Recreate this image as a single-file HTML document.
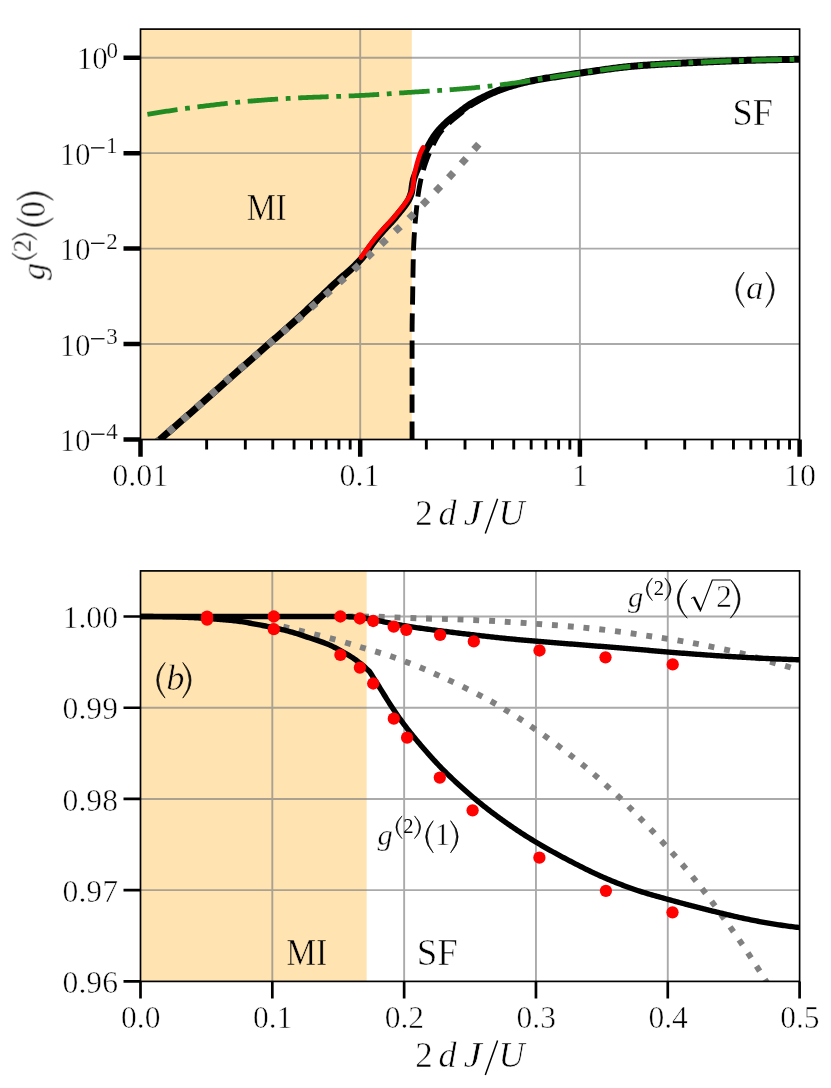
<!DOCTYPE html>
<html><head><meta charset="utf-8"><title>g2 correlations</title>
<style>html,body{margin:0;padding:0;background:#fff}svg{display:block}text{font-family:"Liberation Serif",serif;fill:#000}</style></head>
<body>
<svg width="831" height="1088" viewBox="0 0 831 1088">
<rect width="831" height="1088" fill="#fff"/>
<defs><clipPath id="ca"><rect x="140.5" y="29.1" width="659.1" height="410.4"/></clipPath><clipPath id="cb"><rect x="140.5" y="570.9" width="659.1" height="410.5"/></clipPath></defs>
<g opacity="0.999">
<!-- panel a -->
<rect x="140.5" y="29.1" width="271.3" height="410.4" fill="#ffe4b2"/>
<path d="M360.2 29.1 V439.5 M579.9 29.1 V439.5 M140.5 57.7 H799.6 M140.5 153.15 H799.6 M140.5 248.6 H799.6 M140.5 344.05 H799.6" stroke="#808080" stroke-opacity="0.67" stroke-width="1.9" fill="none"/>
<g clip-path="url(#ca)" fill="none" stroke-linejoin="round">
<path d="M148.5 449.5 L149.63 448.51 L150.77 447.53 L151.9 446.54 L153.04 445.56 L154.17 444.57 L155.31 443.58 L156.44 442.6 L157.57 441.61 L158.71 440.62 L159.84 439.64 L160.98 438.65 L162.11 437.67 L163.24 436.68 L164.38 435.69 L165.51 434.71 L166.65 433.72 L167.78 432.74 L168.92 431.75 L170.05 430.77 L171.19 429.78 L172.32 428.8 L173.46 427.81 L174.59 426.83 L175.73 425.84 L176.86 424.86 L178 423.87 L179.13 422.89 L180.27 421.9 L181.4 420.91 L182.54 419.93 L183.67 418.94 L184.81 417.96 L185.94 416.97 L187.07 415.98 L188.21 415 L189.34 414.01 L190.47 413.02 L191.61 412.03 L192.74 411.04 L193.87 410.05 L195 409.07 L196.13 408.08 L197.26 407.09 L198.39 406.09 L199.52 405.1 L200.65 404.11 L201.78 403.12 L202.91 402.13 L204.04 401.13 L205.16 400.14 L206.29 399.14 L207.42 398.15 L208.54 397.15 L209.67 396.16 L210.79 395.16 L211.92 394.17 L213.04 393.17 L214.17 392.17 L215.29 391.17 L216.42 390.18 L217.54 389.18 L218.67 388.18 L219.79 387.18 L220.91 386.18 L222.04 385.19 L223.16 384.19 L224.28 383.19 L225.41 382.19 L226.53 381.19 L227.66 380.2 L228.78 379.2 L229.9 378.2 L231.03 377.2 L232.15 376.21 L233.28 375.21 L234.4 374.21 L235.53 373.22 L236.65 372.22 L237.78 371.22 L238.91 370.23 L240.03 369.23 L241.16 368.24 L242.29 367.25 L243.42 366.25 L244.54 365.26 L245.67 364.27 L246.8 363.28 L247.93 362.29 L249.06 361.29 L250.19 360.3 L251.32 359.31 L252.45 358.32 L253.58 357.33 L254.72 356.34 L255.85 355.35 L256.98 354.36 L258.11 353.37 L259.24 352.38 L260.37 351.39 L261.5 350.4 L262.63 349.41 L263.76 348.42 L264.89 347.43 L266.02 346.44 L267.15 345.45 L268.28 344.45 L269.41 343.46 L270.54 342.47 L271.66 341.48 L272.79 340.48 L273.92 339.49 L275.05 338.5 L276.18 337.51 L277.31 336.52 L278.45 335.53 L279.58 334.54 L280.71 333.55 L281.84 332.56 L282.97 331.57 L284.1 330.58 L285.23 329.59 L286.36 328.6 L287.49 327.6 L288.62 326.61 L289.74 325.61 L290.87 324.62 L291.99 323.62 L293.11 322.62 L294.23 321.62 L295.35 320.61 L296.47 319.61 L297.58 318.6 L298.7 317.59 L299.81 316.58 L300.91 315.56 L302.02 314.55 L303.12 313.53 L304.22 312.5 L305.32 311.48 L306.42 310.45 L307.52 309.42 L308.61 308.39 L309.7 307.36 L310.79 306.33 L311.88 305.29 L312.97 304.26 L314.06 303.22 L315.15 302.18 L316.24 301.15 L317.32 300.11 L318.41 299.07 L319.49 298.03 L320.58 296.99 L321.66 295.95 L322.75 294.91 L323.84 293.87 L324.92 292.83 L326.01 291.79 L327.1 290.75 L328.19 289.72 L329.28 288.68 L330.37 287.65 L331.46 286.61 L332.55 285.58 L333.65 284.55 L334.75 283.53 L335.86 282.51 L336.97 281.5 L338.1 280.49 L339.23 279.49 L340.37 278.49 L341.5 277.49 L342.65 276.5 L343.79 275.51 L344.93 274.52 L346.07 273.52 L347.21 272.53 L348.34 271.53 L349.47 270.52 L350.59 269.52 L351.71 268.5 L352.81 267.49 L353.91 266.46 L355 265.42 L356.07 264.38 L357.13 263.32 L358.17 262.26 L359.2 261.18 L360.21 260.09 L361.2 258.98 L362.17 257.86 L363.12 256.71 L364.04 255.54 L364.93 254.34 L365.81 253.12 L366.68 251.88 L367.54 250.64 L368.39 249.4 L369.25 248.15 L370.11 246.91 L370.98 245.68 L371.87 244.46 L372.77 243.25 L373.69 242.07 L374.63 240.9 L375.57 239.73 L376.52 238.56 L377.48 237.4 L378.45 236.25 L379.42 235.1 L380.39 233.96 L381.38 232.82 L382.36 231.68 L383.36 230.55 L384.35 229.43 L385.35 228.31 L386.37 227.2 L387.4 226.11 L388.44 225.03 L389.49 223.94 L390.52 222.85 L391.55 221.75 L392.55 220.63 L393.53 219.5 L394.51 218.36 L395.47 217.2 L396.43 216.04 L397.38 214.88 L398.33 213.72 L399.29 212.55 L400.25 211.39 L401.21 210.24 L402.17 209.07 L403.11 207.9 L404.03 206.71 L404.9 205.5 L405.76 204.26 L406.63 203.01 L407.47 201.75 L408.26 200.46 L408.98 199.14 L409.6 197.8 L410.16 196.42 L410.67 194.99 L411.12 193.54 L411.49 192.08 L411.74 190.61 L411.93 189.12 L412.09 187.62 L412.28 186.13 L412.51 184.64 L412.76 183.15 L413.04 181.67 L413.35 180.21 L413.73 178.76 L414.19 177.33 L414.69 175.91 L415.22 174.5 L415.74 173.09 L416.29 171.69 L416.86 170.3 L417.45 168.92 L418.04 167.53 L418.64 166.15 L419.23 164.77 L419.83 163.39 L420.43 162.02 L421.04 160.64 L421.65 159.27 L422.27 157.9 L422.88 156.53 L423.5 155.16 L424.13 153.79 L424.78 152.44 L425.46 151.1 L426.17 149.77 L426.9 148.45 L427.63 147.14 L428.36 145.83 L429.09 144.51 L429.82 143.18 L430.56 141.86 L431.31 140.55 L432.08 139.26 L432.87 137.98 L433.68 136.73 L434.53 135.51 L435.42 134.32 L436.33 133.13 L437.27 131.96 L438.24 130.8 L439.24 129.66 L440.25 128.53 L441.28 127.42 L442.33 126.32 L443.39 125.25 L444.45 124.19 L445.53 123.16 L446.62 122.15 L447.74 121.16 L448.88 120.19 L450.04 119.24 L451.22 118.3 L452.41 117.37 L453.61 116.46 L454.81 115.55 L456.03 114.65 L457.24 113.75 L458.45 112.84 L459.65 111.94 L460.84 111.03 L462.04 110.11 L463.24 109.2 L464.44 108.29 L465.65 107.39 L466.87 106.51 L468.1 105.65 L469.34 104.82 L470.61 104.02 L471.89 103.25 L473.2 102.51 L474.51 101.78 L475.84 101.07 L477.18 100.36 L478.51 99.67 L479.85 98.98 L481.18 98.29 L482.52 97.61 L483.87 96.93 L485.21 96.27 L486.57 95.61 L487.93 94.97 L489.29 94.34 L490.66 93.73 L492.04 93.12 L493.42 92.53 L494.81 91.95 L496.2 91.38 L497.6 90.82 L499 90.28 L500.4 89.75 L501.81 89.23 L503.22 88.72 L504.64 88.22 L506.07 87.73 L507.49 87.25 L508.92 86.79 L510.36 86.34 L511.79 85.9 L513.23 85.48 L514.68 85.06 L516.13 84.65 L517.57 84.25 L519.03 83.86 L520.48 83.47 L521.93 83.09 L523.39 82.72 L524.85 82.36 L526.31 82.01 L527.77 81.67 L529.24 81.35 L530.71 81.04 L532.19 80.75 L533.66 80.46 L535.14 80.18 L536.62 79.9 L538.09 79.63 L539.57 79.36 L541.05 79.09 L542.53 78.82 L544.01 78.57 L545.49 78.32 L546.98 78.07 L548.46 77.83 L549.95 77.6 L551.43 77.37 L552.92 77.15 L554.4 76.93 L555.89 76.71 L557.38 76.49 L558.87 76.27 L560.35 76.05 L561.84 75.82 L563.32 75.6 L564.81 75.37 L566.3 75.14 L567.78 74.91 L569.27 74.69 L570.75 74.46 L572.24 74.23 L573.73 74.01 L575.21 73.79 L576.7 73.57 L578.19 73.36 L579.67 73.15 L581.16 72.94 L582.65 72.73 L584.14 72.51 L585.63 72.3 L587.12 72.09 L588.6 71.87 L590.09 71.66 L591.58 71.44 L593.07 71.22 L594.56 71.01 L596.05 70.79 L597.54 70.58 L599.03 70.36 L600.52 70.15 L602.01 69.94 L603.49 69.73 L604.98 69.52 L606.47 69.31 L607.96 69.11 L609.46 68.91 L610.95 68.71 L612.44 68.51 L613.93 68.31 L615.42 68.12 L616.91 67.94 L618.4 67.75 L619.89 67.57 L621.39 67.4 L622.88 67.23 L624.37 67.06 L625.87 66.9 L627.36 66.74 L628.85 66.59 L630.35 66.45 L631.84 66.31 L633.34 66.17 L634.83 66.05 L636.33 65.92 L637.82 65.81 L639.32 65.69 L640.82 65.58 L642.31 65.46 L643.81 65.35 L645.31 65.25 L646.81 65.14 L648.31 65.04 L649.81 64.94 L651.31 64.84 L652.81 64.74 L654.31 64.65 L655.81 64.55 L657.31 64.46 L658.81 64.37 L660.31 64.28 L661.81 64.2 L663.31 64.11 L664.81 64.03 L666.31 63.94 L667.82 63.86 L669.32 63.78 L670.82 63.7 L672.32 63.62 L673.82 63.54 L675.32 63.47 L676.83 63.39 L678.33 63.31 L679.83 63.24 L681.33 63.16 L682.83 63.09 L684.34 63.01 L685.84 62.94 L687.34 62.86 L688.84 62.79 L690.34 62.72 L691.84 62.64 L693.34 62.57 L694.84 62.5 L696.35 62.42 L697.85 62.35 L699.35 62.28 L700.85 62.21 L702.35 62.13 L703.85 62.06 L705.35 61.99 L706.85 61.92 L708.36 61.85 L709.86 61.78 L711.36 61.71 L712.86 61.64 L714.36 61.58 L715.86 61.51 L717.37 61.44 L718.87 61.38 L720.37 61.31 L721.87 61.25 L723.37 61.19 L724.88 61.13 L726.38 61.07 L727.88 61.01 L729.38 60.95 L730.88 60.89 L732.38 60.84 L733.89 60.78 L735.39 60.73 L736.89 60.68 L738.39 60.63 L739.9 60.58 L741.4 60.53 L742.9 60.49 L744.4 60.44 L745.9 60.4 L747.41 60.36 L748.91 60.32 L750.41 60.28 L751.91 60.24 L753.41 60.2 L754.92 60.16 L756.42 60.12 L757.92 60.09 L759.42 60.05 L760.93 60.01 L762.43 59.97 L763.93 59.94 L765.43 59.9 L766.94 59.87 L768.44 59.83 L769.94 59.8 L771.44 59.77 L772.95 59.73 L774.45 59.7 L775.95 59.67 L777.46 59.64 L778.96 59.61 L780.46 59.58 L781.96 59.56 L783.47 59.53 L784.97 59.5 L786.47 59.48 L787.98 59.45 L789.48 59.43 L790.98 59.41 L792.48 59.39 L793.99 59.37 L795.49 59.35 L796.99 59.33 L798.5 59.32 L800 59.3" stroke="#000" stroke-width="7"/>
<path d="M412.06 439.9 L412.06 438.9 L412.06 437.9 L412.06 436.89 L412.06 435.89 L412.06 434.89 L412.06 433.89 L412.06 432.89 L412.06 431.88 L412.06 430.88 L412.06 429.88 L412.06 428.88 L412.06 427.88 L412.06 426.87 L412.06 425.87 L412.06 424.87 L412.06 423.87 L412.06 422.87 L412.06 421.86 L412.06 420.86 L412.06 419.86 L412.06 418.86 L412.06 417.86 L412.06 416.85 L412.06 415.85 L412.06 414.85 L412.06 413.85 L412.06 412.85 L412.06 411.84 L412.06 410.84 L412.06 409.84 L412.06 408.84 L412.06 407.84 L412.06 406.83 L412.06 405.83 L412.06 404.83 L412.06 403.83 L412.06 402.83 L412.06 401.82 L412.06 400.82 L412.06 399.82 L412.06 398.82 L412.06 397.82 L412.06 396.81 L412.06 395.81 L412.06 394.81 L412.06 393.81 L412.06 392.81 L412.06 391.8 L412.06 390.8 L412.06 389.8 L412.06 388.8 L412.06 387.8 L412.06 386.79 L412.06 385.79 L412.06 384.79 L412.06 383.79 L412.06 382.79 L412.06 381.78 L412.06 380.78 L412.06 379.78 L412.06 378.78 L412.06 377.78 L412.06 376.77 L412.06 375.77 L412.06 374.77 L412.06 373.77 L412.06 372.77 L412.06 371.76 L412.06 370.76 L412.06 369.76 L412.06 368.76 L412.06 367.76 L412.06 366.75 L412.06 365.75 L412.06 364.75 L412.06 363.75 L412.06 362.75 L412.07 361.74 L412.07 360.74 L412.07 359.74 L412.07 358.74 L412.07 357.74 L412.07 356.73 L412.07 355.73 L412.07 354.73 L412.07 353.73 L412.07 352.73 L412.07 351.72 L412.07 350.72 L412.07 349.72 L412.08 348.72 L412.08 347.72 L412.08 346.71 L412.08 345.71 L412.08 344.71 L412.08 343.71 L412.08 342.71 L412.08 341.7 L412.08 340.7 L412.09 339.7 L412.09 338.7 L412.09 337.7 L412.09 336.69 L412.09 335.69 L412.09 334.69 L412.09 333.69 L412.1 332.69 L412.1 331.68 L412.1 330.68 L412.1 329.68 L412.1 328.68 L412.11 327.68 L412.12 326.67 L412.12 325.67 L412.13 324.67 L412.15 323.67 L412.16 322.67 L412.17 321.66 L412.19 320.66 L412.2 319.66 L412.22 318.66 L412.24 317.66 L412.26 316.66 L412.28 315.65 L412.3 314.65 L412.32 313.65 L412.34 312.65 L412.36 311.65 L412.38 310.64 L412.41 309.64 L412.43 308.64 L412.45 307.64 L412.47 306.64 L412.49 305.64 L412.51 304.63 L412.53 303.63 L412.55 302.63 L412.57 301.63 L412.59 300.63 L412.61 299.62 L412.62 298.62 L412.64 297.62 L412.66 296.62 L412.67 295.62 L412.69 294.61 L412.7 293.61 L412.72 292.61 L412.73 291.61 L412.75 290.61 L412.76 289.6 L412.78 288.6 L412.79 287.6 L412.81 286.6 L412.82 285.6 L412.83 284.59 L412.85 283.59 L412.86 282.59 L412.88 281.59 L412.89 280.59 L412.91 279.58 L412.92 278.58 L412.94 277.58 L412.95 276.58 L412.97 275.58 L412.98 274.57 L413 273.57 L413.01 272.57 L413.03 271.57 L413.05 270.57 L413.06 269.56 L413.08 268.56 L413.1 267.56 L413.12 266.56 L413.13 265.56 L413.15 264.55 L413.17 263.55 L413.19 262.55 L413.21 261.55 L413.24 260.55 L413.26 259.55 L413.28 258.54 L413.3 257.54 L413.33 256.54 L413.35 255.54 L413.38 254.54 L413.4 253.54 L413.43 252.54 L413.46 251.53 L413.48 250.53 L413.51 249.53 L413.55 248.53 L413.58 247.53 L413.62 246.53 L413.67 245.53 L413.71 244.53 L413.76 243.53 L413.82 242.53 L413.87 241.53 L413.93 240.52 L413.98 239.52 L414.05 238.52 L414.11 237.52 L414.17 236.52 L414.23 235.52 L414.3 234.52 L414.37 233.52 L414.43 232.52 L414.5 231.52 L414.57 230.52 L414.63 229.52 L414.7 228.52 L414.78 227.52 L414.85 226.53 L414.93 225.53 L415.01 224.53 L415.09 223.53 L415.18 222.53 L415.27 221.53 L415.35 220.53 L415.44 219.54 L415.53 218.54 L415.63 217.54 L415.72 216.54 L415.82 215.55 L415.92 214.55 L416.02 213.55 L416.12 212.56 L416.22 211.56 L416.33 210.56 L416.43 209.57 L416.54 208.57 L416.65 207.57 L416.75 206.58 L416.86 205.58 L416.97 204.58 L417.08 203.59 L417.19 202.59 L417.3 201.6 L417.42 200.6 L417.54 199.61 L417.66 198.61 L417.79 197.62 L417.92 196.62 L418.05 195.63 L418.19 194.64 L418.33 193.65 L418.48 192.66 L418.63 191.67 L418.79 190.68 L418.95 189.69 L419.12 188.7 L419.29 187.71 L419.47 186.72 L419.65 185.74 L419.83 184.76 L420.03 183.77 L420.23 182.79 L420.43 181.81 L420.64 180.83 L420.85 179.85 L421.07 178.87 L421.3 177.89 L421.53 176.92 L421.77 175.94 L422.01 174.97 L422.25 174 L422.51 173.03 L422.77 172.07 L423.03 171.1 L423.31 170.13 L423.59 169.17 L423.87 168.21 L424.16 167.25 L424.46 166.29 L424.76 165.34 L425.07 164.38 L425.39 163.44 L425.71 162.49 L426.05 161.55 L426.39 160.6 L426.74 159.66 L427.1 158.73 L427.47 157.79 L427.84 156.86 L428.21 155.93 L428.59 155 L428.97 154.08 L429.35 153.15 L429.74 152.23 L430.14 151.31 L430.54 150.39 L430.95 149.47 L431.37 148.56 L431.79 147.65 L432.21 146.74 L432.64 145.84 L433.08 144.94 L433.53 144.04 L433.97 143.14 L434.42 142.24 L434.88 141.34 L435.34 140.44 L435.8 139.54 L436.28 138.66 L436.77 137.78 L437.27 136.91 L437.79 136.06 L438.32 135.22 L438.87 134.4 L439.44 133.59 L440.03 132.8 L440.65 132.01 L441.28 131.23 L441.93 130.46 L442.6 129.7 L443.27 128.95 L443.96 128.21 L444.66 127.48 L445.36 126.75 L446.06 126.03 L446.77 125.33 L447.48 124.63 L448.19 123.93 L448.92 123.25 L449.65 122.58 L450.4 121.91 L451.15 121.25 L451.91 120.59 L452.67 119.95 L453.45 119.3 L454.22 118.66 L455 118.03 L455.78 117.4 L456.57 116.77 L457.36 116.14 L458.14 115.51 L458.93 114.89 L459.72 114.27 L460.5 113.64 L461.28 113.01 L462.06 112.38 L462.84 111.75 L463.63 111.12 L464.41 110.49 L465.2 109.87 L465.99 109.25 L466.78 108.63 L467.58 108.03 L468.38 107.43 L469.19 106.84 L470.01 106.27 L470.84 105.71 L471.67 105.16 L472.51 104.63 L473.36 104.11 L474.22 103.59 L475.09 103.09 L475.96 102.59 L476.84 102.1 L477.72 101.61 L478.59 101.12 L479.47 100.64 L480.35 100.16 L481.23 99.67 L482.11 99.19 L482.99 98.71 L483.87 98.23 L484.75 97.76 L485.64 97.29 L486.53 96.82 L487.41 96.36 L488.31 95.9 L489.2 95.45 L490.1 95 L490.99 94.56 L491.9 94.12 L492.8 93.69 L493.71 93.26 L494.61 92.84 L495.53 92.42 L496.44 92 L497.35 91.59 L498.27 91.18 L499.18 90.78 L500.1 90.38 L501.02 89.98 L501.94 89.58 L502.86 89.18 L503.79 88.79 L504.71 88.4 L505.64 88.02 L506.57 87.65 L507.51 87.3 L508.45 86.96 L509.39 86.63 L510.34 86.32 L511.3 86.02 L512.26 85.73 L513.22 85.45 L514.18 85.18 L515.15 84.91 L516.12 84.64 L517.09 84.38 L518.06 84.12 L519.02 83.86 L519.99 83.6 L520.96 83.34 L521.93 83.09 L522.9 82.84 L523.87 82.6 L524.85 82.36 L525.82 82.12 L526.8 81.89 L527.77 81.67 L528.75 81.46 L529.73 81.25 L530.71 81.05 L531.69 80.85 L532.68 80.65 L533.66 80.46 L534.65 80.27 L535.63 80.09 L536.62 79.9 L537.6 79.72 L538.59 79.54 L539.57 79.36 L540.56 79.18 L541.54 79 L542.53 78.83 L543.52 78.65 L544.5 78.48 L545.49 78.32 L546.48 78.15 L547.47 77.99 L548.46 77.83 L549.45 77.67 L550.44 77.52 L551.43 77.37 L552.42 77.22 L553.41 77.07 L554.4 76.93 L555.39 76.78 L556.39 76.64 L557.38 76.49 L558.37 76.34 L559.36 76.2 L560.35 76.05 L561.34 75.9 L562.33 75.75 L563.32 75.6 L564.31 75.44 L565.3 75.29 L566.29 75.14 L567.28 74.99 L568.27 74.84 L569.27 74.69 L570.26 74.53 L571.25 74.38 L572.24 74.23 L573.23 74.09 L574.22 73.94 L575.21 73.79 L576.2 73.64 L577.19 73.5 L578.18 73.36 L579.18 73.22 L580.17 73.08 L581.16 72.94 L582.15 72.8 L583.15 72.66 L584.14 72.51 L585.13 72.37 L586.12 72.23 L587.11 72.09 L588.11 71.94 L589.1 71.8 L590.09 71.66 L591.08 71.51 L592.08 71.37 L593.07 71.22 L594.06 71.08 L595.05 70.94 L596.05 70.79 L597.04 70.65 L598.03 70.51 L599.02 70.36 L600.02 70.22 L601.01 70.08 L602 69.94 L603 69.8 L603.99 69.66 L604.98 69.52 L605.98 69.38 L606.97 69.24 L607.96 69.11 L608.96 68.97 L609.95 68.84 L610.94 68.71 L611.94 68.57 L612.93 68.44 L613.93 68.31 L614.92 68.19 L615.91 68.06 L616.91 67.94 L617.9 67.81 L618.9 67.69 L619.89 67.57 L620.89 67.46 L621.88 67.34 L622.88 67.23 L623.87 67.12 L624.87 67.01 L625.86 66.9 L626.86 66.8 L627.86 66.69 L628.85 66.59 L629.85 66.5 L630.84 66.4 L631.84 66.31 L632.84 66.22 L633.83 66.13 L634.83 66.05 L635.83 65.97 L636.82 65.89 L637.82 65.81 L638.82 65.73 L639.82 65.65 L640.82 65.58 L641.81 65.5 L642.81 65.43 L643.81 65.35 L644.81 65.28 L645.81 65.21 L646.81 65.14 L647.81 65.07 L648.81 65.01 L649.81 64.94 L650.81 64.87 L651.8 64.81 L652.8 64.74 L653.8 64.68 L654.8 64.62 L655.81 64.55 L656.81 64.49 L657.81 64.43 L658.81 64.37 L659.81 64.31 L660.81 64.26 L661.81 64.2 L662.81 64.14 L663.81 64.08 L664.81 64.03 L665.81 63.97 L666.81 63.92 L667.81 63.86 L668.82 63.81 L669.82 63.75 L670.82 63.7 L671.82 63.65 L672.82 63.59 L673.82 63.54 L674.82 63.49 L675.82 63.44 L676.83 63.39 L677.83 63.34 L678.83 63.29 L679.83 63.24 L680.83 63.19 L681.83 63.14 L682.83 63.09 L683.83 63.04 L684.84 62.99 L685.84 62.94 L686.84 62.89 L687.84 62.84 L688.84 62.79 L689.84 62.74 L690.84 62.69 L691.84 62.64 L692.84 62.6 L693.84 62.55 L694.84 62.5 L695.84 62.45 L696.85 62.4 L697.85 62.35 L698.85 62.3 L699.85 62.25 L700.85 62.21 L701.85 62.16 L702.85 62.11 L703.85 62.06 L704.85 62.01 L705.85 61.97 L706.85 61.92 L707.86 61.87 L708.86 61.83 L709.86 61.78 L710.86 61.73 L711.86 61.69 L712.86 61.64 L713.86 61.6 L714.86 61.55 L715.86 61.51 L716.86 61.46 L717.87 61.42 L718.87 61.38 L719.87 61.33 L720.87 61.29 L721.87 61.25 L722.87 61.21 L723.87 61.17 L724.87 61.13 L725.88 61.09 L726.88 61.05 L727.88 61.01 L728.88 60.97 L729.88 60.93 L730.88 60.89 L731.88 60.86 L732.88 60.82 L733.89 60.78 L734.89 60.75 L735.89 60.71 L736.89 60.68 L737.89 60.65 L738.89 60.61 L739.89 60.58 L740.9 60.55 L741.9 60.52 L742.9 60.49 L743.9 60.46 L744.9 60.43 L745.9 60.4 L746.9 60.38 L747.91 60.35 L748.91 60.32 L749.91 60.29 L750.91 60.27 L751.91 60.24 L752.91 60.21 L753.92 60.19 L754.92 60.16 L755.92 60.14 L756.92 60.11 L757.92 60.09 L758.92 60.06 L759.92 60.04 L760.93 60.01 L761.93 59.99 L762.93 59.96 L763.93 59.94 L764.93 59.91 L765.93 59.89 L766.94 59.87 L767.94 59.84 L768.94 59.82 L769.94 59.8 L770.94 59.78 L771.95 59.76 L772.95 59.73 L773.95 59.71 L774.95 59.69 L775.95 59.67 L776.95 59.65 L777.96 59.63 L778.96 59.61 L779.96 59.59 L780.96 59.57 L781.96 59.56 L782.97 59.54 L783.97 59.52 L784.97 59.5 L785.97 59.49 L786.97 59.47 L787.98 59.45 L788.98 59.44 L789.98 59.42 L790.98 59.41 L791.98 59.4 L792.99 59.38 L793.99 59.37 L794.99 59.36 L795.99 59.34 L796.99 59.33 L798 59.32 L799 59.31 L800 59.3" stroke="#000" stroke-width="4.9" stroke-dasharray="18.3 8.75"/>
<g fill="#808080"><rect x="153.2" y="438.4" width="7.2" height="7.2" transform="rotate(-40.7 156.8 442)"/><rect x="167.5" y="426.1" width="7.2" height="7.2" transform="rotate(-40.77 171.1 429.7)"/><rect x="181.5" y="414" width="7.2" height="7.2" transform="rotate(-41.1 185.1 417.6)"/><rect x="195.7" y="401.5" width="7.2" height="7.2" transform="rotate(-41.48 199.3 405.1)"/><rect x="210" y="388.8" width="7.2" height="7.2" transform="rotate(-42.04 213.6 392.4)"/><rect x="224.2" y="375.8" width="7.2" height="7.2" transform="rotate(-41.6 227.8 379.4)"/><rect x="238.5" y="363.5" width="7.2" height="7.2" transform="rotate(-40.47 242.1 367.1)"/><rect x="252.8" y="351.4" width="7.2" height="7.2" transform="rotate(-40.72 256.4 355)"/><rect x="267.2" y="338.8" width="7.2" height="7.2" transform="rotate(-40.94 270.8 342.4)"/><rect x="281.5" y="326.5" width="7.2" height="7.2" transform="rotate(-40.55 285.1 330.1)"/><rect x="295.6" y="314.5" width="7.2" height="7.2" transform="rotate(-40.98 299.2 318.1)"/><rect x="309.7" y="302" width="7.2" height="7.2" transform="rotate(-41.38 313.3 305.6)"/><rect x="324.2" y="289.3" width="7.2" height="7.2" transform="rotate(-41.51 327.8 292.9)"/><rect x="338.4" y="276.6" width="7.2" height="7.2" transform="rotate(-41.82 342 280.2)"/><rect x="352.7" y="263.8" width="7.2" height="7.2" transform="rotate(-42.42 356.3 267.4)"/><rect x="366.2" y="251.2" width="7.2" height="7.2" transform="rotate(-42.84 369.8 254.8)"/><rect x="380.2" y="238.3" width="7.2" height="7.2" transform="rotate(-42.76 383.8 241.9)"/><rect x="394.1" y="225.4" width="7.2" height="7.2" transform="rotate(-43.13 397.7 229)"/><rect x="407.85" y="212.4" width="7.2" height="7.2" transform="rotate(-44.42 411.45 216)"/><rect x="421.35" y="198.7" width="7.2" height="7.2" transform="rotate(-45.48 424.95 202.3)"/><rect x="434.5" y="185.3" width="7.2" height="7.2" transform="rotate(-46.13 438.1 188.9)"/><rect x="447.5" y="171.5" width="7.2" height="7.2" transform="rotate(-47.35 451.1 175.1)"/><rect x="460.2" y="157.4" width="7.2" height="7.2" transform="rotate(-48.2 463.8 161)"/><rect x="472.8" y="143.2" width="7.2" height="7.2" transform="rotate(-48.42 476.4 146.8)"/></g>
<path d="M147.4 114.3 L148.88 114.06 L150.37 113.81 L151.85 113.57 L153.34 113.33 L154.82 113.09 L156.31 112.85 L157.79 112.62 L159.28 112.38 L160.76 112.15 L162.25 111.92 L163.74 111.69 L165.22 111.46 L166.71 111.23 L168.2 111.01 L169.68 110.78 L171.17 110.56 L172.66 110.34 L174.15 110.12 L175.63 109.91 L177.12 109.69 L178.61 109.48 L180.1 109.27 L181.59 109.06 L183.08 108.85 L184.56 108.64 L186.05 108.44 L187.54 108.23 L189.03 108.03 L190.52 107.83 L192.01 107.64 L193.5 107.44 L194.99 107.25 L196.48 107.05 L197.97 106.87 L199.46 106.68 L200.96 106.49 L202.45 106.3 L203.94 106.11 L205.43 105.93 L206.92 105.74 L208.42 105.56 L209.91 105.37 L211.4 105.19 L212.89 105.01 L214.39 104.83 L215.88 104.65 L217.37 104.47 L218.87 104.29 L220.36 104.12 L221.86 103.95 L223.35 103.77 L224.84 103.61 L226.34 103.44 L227.83 103.27 L229.33 103.11 L230.82 102.95 L232.32 102.79 L233.82 102.64 L235.31 102.48 L236.81 102.33 L238.3 102.18 L239.8 102.04 L241.3 101.9 L242.79 101.76 L244.29 101.62 L245.79 101.49 L247.28 101.36 L248.78 101.23 L250.28 101.11 L251.78 100.99 L253.27 100.86 L254.77 100.74 L256.27 100.63 L257.77 100.51 L259.27 100.39 L260.77 100.28 L262.27 100.16 L263.76 100.05 L265.26 99.94 L266.76 99.83 L268.26 99.72 L269.76 99.62 L271.26 99.51 L272.77 99.41 L274.27 99.31 L275.77 99.21 L277.27 99.11 L278.77 99.01 L280.27 98.92 L281.77 98.82 L283.27 98.73 L284.77 98.64 L286.27 98.55 L287.77 98.47 L289.28 98.38 L290.78 98.3 L292.28 98.21 L293.78 98.13 L295.28 98.05 L296.78 97.98 L298.28 97.9 L299.78 97.83 L301.29 97.76 L302.79 97.69 L304.29 97.62 L305.79 97.55 L307.29 97.49 L308.79 97.43 L310.3 97.37 L311.8 97.31 L313.3 97.25 L314.8 97.19 L316.31 97.14 L317.81 97.08 L319.31 97.03 L320.81 96.98 L322.32 96.92 L323.82 96.87 L325.32 96.82 L326.83 96.77 L328.33 96.72 L329.83 96.67 L331.33 96.62 L332.84 96.57 L334.34 96.51 L335.84 96.46 L337.34 96.41 L338.85 96.36 L340.35 96.31 L341.85 96.25 L343.36 96.2 L344.86 96.14 L346.36 96.09 L347.86 96.03 L349.37 95.97 L350.87 95.91 L352.37 95.84 L353.87 95.78 L355.37 95.71 L356.88 95.65 L358.38 95.58 L359.88 95.51 L361.38 95.43 L362.88 95.36 L364.38 95.28 L365.88 95.2 L367.38 95.11 L368.88 95.03 L370.39 94.94 L371.89 94.86 L373.39 94.77 L374.89 94.67 L376.39 94.58 L377.89 94.49 L379.39 94.39 L380.89 94.3 L382.39 94.2 L383.89 94.1 L385.39 94 L386.89 93.9 L388.39 93.8 L389.89 93.7 L391.39 93.6 L392.89 93.49 L394.39 93.39 L395.89 93.29 L397.39 93.18 L398.89 93.08 L400.39 92.98 L401.89 92.88 L403.39 92.77 L404.89 92.67 L406.39 92.57 L407.89 92.47 L409.39 92.37 L410.89 92.27 L412.39 92.17 L413.89 92.07 L415.39 91.97 L416.89 91.88 L418.4 91.78 L419.9 91.68 L421.4 91.59 L422.9 91.5 L424.4 91.4 L425.9 91.31 L427.4 91.21 L428.9 91.12 L430.4 91.03 L431.9 90.93 L433.4 90.84 L434.91 90.74 L436.41 90.65 L437.91 90.55 L439.41 90.45 L440.91 90.35 L442.41 90.26 L443.91 90.16 L445.41 90.05 L446.91 89.95 L448.41 89.85 L449.91 89.74 L451.41 89.64 L452.91 89.53 L454.41 89.42 L455.91 89.3 L457.4 89.19 L458.9 89.07 L460.4 88.96 L461.9 88.83 L463.4 88.71 L464.89 88.59 L466.39 88.46 L467.89 88.33 L469.38 88.19 L470.88 88.05 L472.38 87.91 L473.87 87.77 L475.37 87.62 L476.86 87.48 L478.36 87.32 L479.86 87.17 L481.35 87.01 L482.85 86.85 L484.34 86.69 L485.84 86.53 L487.33 86.36 L488.83 86.19 L490.32 86.02 L491.81 85.84 L493.31 85.67 L494.8 85.49 L496.3 85.31 L497.79 85.13 L499.28 84.95 L500.78 84.76 L502.27 84.58 L503.76 84.39 L505.25 84.2 L506.74 84.01 L508.24 83.81 L509.73 83.62 L511.22 83.43 L512.71 83.23 L514.2 83.03 L515.69 82.83 L517.18 82.63 L518.67 82.43 L520.15 82.23 L521.64 82.02 L523.13 81.8 L524.62 81.57 L526.1 81.35 L527.59 81.11 L529.07 80.88 L530.56 80.64 L532.04 80.39 L533.52 80.15 L535.01 79.91 L536.49 79.66 L537.98 79.42 L539.46 79.18 L540.94 78.94 L542.43 78.7 L543.92 78.47 L545.4 78.24 L546.89 78.01 L548.37 77.78 L549.86 77.56 L551.35 77.33 L552.83 77.1 L554.32 76.88 L555.81 76.65 L557.29 76.42 L558.78 76.2 L560.26 75.97 L561.75 75.75 L563.24 75.53 L564.73 75.3 L566.21 75.08 L567.7 74.86 L569.19 74.64 L570.68 74.43 L572.16 74.21 L573.65 74 L575.14 73.78 L576.63 73.57 L578.12 73.36 L579.61 73.15 L581.09 72.95 L582.58 72.74 L584.07 72.53 L585.56 72.32 L587.05 72.1 L588.54 71.89 L590.03 71.68 L591.52 71.46 L593.01 71.25 L594.5 71.03 L595.99 70.81 L597.48 70.6 L598.97 70.39 L600.46 70.17 L601.95 69.96 L603.44 69.75 L604.93 69.54 L606.42 69.33 L607.91 69.13 L609.4 68.92 L610.89 68.72 L612.38 68.52 L613.87 68.33 L615.36 68.14 L616.85 67.95 L618.35 67.77 L619.84 67.59 L621.33 67.41 L622.82 67.24 L624.32 67.07 L625.81 66.91 L627.3 66.75 L628.8 66.6 L630.29 66.45 L631.79 66.31 L633.28 66.18 L634.78 66.05 L636.28 65.93 L637.77 65.81 L639.27 65.69 L640.77 65.58 L642.26 65.47 L643.76 65.36 L645.26 65.25 L646.76 65.15 L648.26 65.04 L649.76 64.94 L651.26 64.84 L652.76 64.75 L654.26 64.65 L655.76 64.56 L657.26 64.47 L658.76 64.38 L660.26 64.29 L661.77 64.2 L663.27 64.11 L664.77 64.03 L666.27 63.95 L667.77 63.86 L669.28 63.78 L670.78 63.7 L672.28 63.62 L673.78 63.54 L675.29 63.47 L676.79 63.39 L678.29 63.31 L679.79 63.24 L681.3 63.16 L682.8 63.09 L684.3 63.01 L685.8 62.94 L687.3 62.87 L688.81 62.79 L690.31 62.72 L691.81 62.65 L693.31 62.57 L694.81 62.5 L696.31 62.43 L697.81 62.35 L699.32 62.28 L700.82 62.21 L702.32 62.14 L703.82 62.06 L705.32 61.99 L706.83 61.92 L708.33 61.85 L709.83 61.78 L711.33 61.71 L712.83 61.64 L714.34 61.58 L715.84 61.51 L717.34 61.44 L718.84 61.38 L720.34 61.31 L721.85 61.25 L723.35 61.19 L724.85 61.13 L726.35 61.07 L727.86 61.01 L729.36 60.95 L730.86 60.89 L732.36 60.84 L733.87 60.78 L735.37 60.73 L736.87 60.68 L738.37 60.63 L739.88 60.58 L741.38 60.53 L742.88 60.49 L744.38 60.45 L745.89 60.4 L747.39 60.36 L748.89 60.32 L750.39 60.28 L751.9 60.24 L753.4 60.2 L754.9 60.16 L756.41 60.12 L757.91 60.09 L759.41 60.05 L760.91 60.01 L762.42 59.97 L763.92 59.94 L765.42 59.9 L766.93 59.87 L768.43 59.83 L769.93 59.8 L771.44 59.77 L772.94 59.73 L774.44 59.7 L775.95 59.67 L777.45 59.64 L778.95 59.61 L780.45 59.58 L781.96 59.56 L783.46 59.53 L784.96 59.5 L786.47 59.48 L787.97 59.45 L789.48 59.43 L790.98 59.41 L792.48 59.39 L793.99 59.37 L795.49 59.35 L796.99 59.33 L798.5 59.32 L800 59.3" stroke="#228b22" stroke-width="4.8" stroke-dasharray="30.5 7.65 4.78 7.65"/>
<path d="M361 257.5 L361.57 256.66 L362.13 255.82 L362.71 254.99 L363.28 254.16 L363.86 253.33 L364.44 252.5 L365.03 251.67 L365.61 250.85 L366.21 250.03 L366.8 249.21 L367.4 248.4 L368 247.58 L368.6 246.77 L369.2 245.97 L369.81 245.16 L370.42 244.36 L371.04 243.56 L371.65 242.76 L372.27 241.96 L372.9 241.17 L373.52 240.38 L374.15 239.59 L374.79 238.8 L375.42 238.02 L376.07 237.24 L376.71 236.46 L377.36 235.68 L378.01 234.91 L378.66 234.13 L379.32 233.36 L379.98 232.6 L380.64 231.83 L381.3 231.07 L381.97 230.31 L382.64 229.55 L383.31 228.8 L383.98 228.04 L384.66 227.3 L385.35 226.56 L386.04 225.82 L386.74 225.1 L387.45 224.37 L388.16 223.65 L388.86 222.92 L389.56 222.2 L390.26 221.46 L390.95 220.72 L391.62 219.97 L392.29 219.22 L392.95 218.45 L393.6 217.69 L394.26 216.91 L394.9 216.13 L395.54 215.35 L396.19 214.57 L396.82 213.79 L397.46 213.01 L398.1 212.22 L398.74 211.44 L399.39 210.66 L400.03 209.88 L400.67 209.1 L401.32 208.32 L401.95 207.53 L402.58 206.74 L403.19 205.94 L403.79 205.13 L404.38 204.31 L404.96 203.48 L405.54 202.65 L406.12 201.82 L406.69 200.97 L407.24 200.12 L407.78 199.27 L408.3 198.4 L408.8 197.53 L409.28 196.64 L409.74 195.75 L410.21 194.85 L410.67 193.93 L411.1 193.01 L411.5 192.07 L411.86 191.13 L412.15 190.18 L412.4 189.21 L412.62 188.23 L412.81 187.23 L412.99 186.23 L413.15 185.23 L413.28 184.22 L413.4 183.22 L413.5 182.22 L413.59 181.21 L413.67 180.2 L413.75 179.19 L413.84 178.18 L413.95 177.18 L414.09 176.19 L414.25 175.19 L414.43 174.2 L414.64 173.21 L414.86 172.22 L415.09 171.23 L415.33 170.25 L415.57 169.27 L415.81 168.28 L416.05 167.3 L416.29 166.32 L416.55 165.35 L416.81 164.37 L417.08 163.39 L417.36 162.42 L417.64 161.45 L417.93 160.48 L418.22 159.52 L418.51 158.55 L418.8 157.58 L419.1 156.61 L419.41 155.64 L419.74 154.69 L420.09 153.74 L420.46 152.81 L420.86 151.89 L421.28 150.97 L421.73 150.07 L422.2 149.17 L422.69 148.28 L423.2 147.4" stroke="#ff0000" stroke-width="4.8" stroke-linecap="round"/>
</g>
<rect x="140.5" y="29.1" width="659.1" height="410.4" fill="none" stroke="#000" stroke-width="1.7"/>
<path d="M140.5 57.7 H123.5 M140.5 153.15 H123.5 M140.5 248.6 H123.5 M140.5 344.05 H123.5 M140.5 439.5 H123.5 M140.5 439.5 V456.8 M360.2 439.5 V456.8 M579.9 439.5 V456.8 M799.6 439.5 V456.8" stroke="#000" stroke-width="4.5" fill="none"/>
<path d="M206.64 439.5 V449.5 M245.32 439.5 V449.5 M272.77 439.5 V449.5 M294.06 439.5 V449.5 M311.46 439.5 V449.5 M326.17 439.5 V449.5 M338.91 439.5 V449.5 M350.15 439.5 V449.5 M426.34 439.5 V449.5 M465.02 439.5 V449.5 M492.47 439.5 V449.5 M513.76 439.5 V449.5 M531.16 439.5 V449.5 M545.87 439.5 V449.5 M558.61 439.5 V449.5 M569.85 439.5 V449.5 M646.04 439.5 V449.5 M684.72 439.5 V449.5 M712.17 439.5 V449.5 M733.46 439.5 V449.5 M750.86 439.5 V449.5 M765.57 439.5 V449.5 M778.31 439.5 V449.5 M789.55 439.5 V449.5" stroke="#000" stroke-width="2.9" fill="none"/>
<text x="76.8" y="69.3" font-size="32" text-anchor="start" textLength="31" lengthAdjust="spacingAndGlyphs"  stroke="#fff" stroke-width="0.55">10</text><text x="106.6" y="58.3" font-size="23" text-anchor="start"  stroke="#fff" stroke-width="0.25">0</text>
<text x="59.5" y="164.75" font-size="32" text-anchor="start" textLength="31" lengthAdjust="spacingAndGlyphs"  stroke="#fff" stroke-width="0.55">10</text><path d="M91 147.85 H104.5" stroke="#000" stroke-width="1.3" fill="none"/><text x="105.9" y="153.05" font-size="23" text-anchor="start"  stroke="#fff" stroke-width="0.25">1</text>
<text x="59.5" y="260.2" font-size="32" text-anchor="start" textLength="31" lengthAdjust="spacingAndGlyphs"  stroke="#fff" stroke-width="0.55">10</text><path d="M91 243.3 H104.5" stroke="#000" stroke-width="1.3" fill="none"/><text x="106.3" y="248.5" font-size="23" text-anchor="start"  stroke="#fff" stroke-width="0.25">2</text>
<text x="59.5" y="355.65" font-size="32" text-anchor="start" textLength="31" lengthAdjust="spacingAndGlyphs"  stroke="#fff" stroke-width="0.55">10</text><path d="M91 338.75 H104.5" stroke="#000" stroke-width="1.3" fill="none"/><text x="106.3" y="343.95" font-size="23" text-anchor="start"  stroke="#fff" stroke-width="0.25">3</text>
<text x="59.5" y="451.1" font-size="32" text-anchor="start" textLength="31" lengthAdjust="spacingAndGlyphs"  stroke="#fff" stroke-width="0.55">10</text><path d="M91 434.2 H104.5" stroke="#000" stroke-width="1.3" fill="none"/><text x="106.3" y="439.4" font-size="23" text-anchor="start"  stroke="#fff" stroke-width="0.25">4</text>
<text x="140.2" y="486.2" font-size="32" text-anchor="middle"  stroke="#fff" stroke-width="0.55">0.01</text><text x="359.6" y="486.2" font-size="32" text-anchor="middle"  stroke="#fff" stroke-width="0.55">0.1</text><text x="580" y="486.2" font-size="32" text-anchor="middle"  stroke="#fff" stroke-width="0.55">1</text><text x="800" y="486.2" font-size="32" text-anchor="middle"  stroke="#fff" stroke-width="0.55">10</text>
<text x="415.2" y="525" font-size="35" text-anchor="start"  stroke="#fff" stroke-width="0.55">2</text><text x="438.6" y="525" font-size="36" text-anchor="start" font-style="italic"  stroke="#fff" stroke-width="0.55">d</text><text x="463.6" y="525" font-size="36" text-anchor="start" font-style="italic" textLength="18.3" lengthAdjust="spacingAndGlyphs"  stroke="#fff" stroke-width="0.55">J</text><path d="M485.3 533.4 L497.6 498.8" stroke="#000" stroke-width="1.5" fill="none"/><text x="498.4" y="525" font-size="36" text-anchor="start" font-style="italic"  stroke="#fff" stroke-width="0.55">U</text>
<g transform="translate(44.8 279.6) rotate(-90)"><text x="-0.4" y="0" font-size="33.6" text-anchor="start" font-style="italic" textLength="17.2" lengthAdjust="spacingAndGlyphs"  stroke="#fff" stroke-width="0.55">g</text><path d="M26.4 -32.9 Q13.6 -20.35 26.4 -7.8 Q16 -20.35 26.4 -32.9 Z" fill="#000" stroke="#000" stroke-width="0.6" stroke-linejoin="round"/><text x="27.6" y="-13.9" font-size="25" text-anchor="start"  stroke="#fff" stroke-width="0.3">2</text><path d="M39.9 -32.9 Q52.7 -20.35 39.9 -7.8 Q50.3 -20.35 39.9 -32.9 Z" fill="#000" stroke="#000" stroke-width="0.6" stroke-linejoin="round"/><path d="M61.3 -28.1 Q45.7 -9.85 61.3 8.4 Q48.9 -9.85 61.3 -28.1 Z" fill="#000" stroke="#000" stroke-width="0.7" stroke-linejoin="round"/><text x="62" y="0" font-size="36" text-anchor="start" textLength="16.5" lengthAdjust="spacingAndGlyphs"  stroke="#fff" stroke-width="0.55">0</text><path d="M79.7 -28.1 Q95.3 -9.85 79.7 8.4 Q92.1 -9.85 79.7 -28.1 Z" fill="#000" stroke="#000" stroke-width="0.7" stroke-linejoin="round"/></g>
<text x="732.4" y="124.7" font-size="37" text-anchor="start" textLength="40.5" lengthAdjust="spacingAndGlyphs"  stroke="#fff" stroke-width="0.55">SF</text><text x="246.7" y="219.9" font-size="37" text-anchor="start" textLength="40" lengthAdjust="spacingAndGlyphs"  stroke="#ffe4b2" stroke-width="0.55">MI</text><path d="M744.1 272 Q727.7 289.7 744.1 307.4 Q730.9 289.7 744.1 272 Z" fill="#000" stroke="#000" stroke-width="0.7" stroke-linejoin="round"/><text x="746" y="299" font-size="33.8" text-anchor="start" font-style="italic" textLength="17.6" lengthAdjust="spacingAndGlyphs"  stroke="#fff" stroke-width="0.55">a</text><path d="M765.9 272 Q782.3 289.7 765.9 307.4 Q779.1 289.7 765.9 272 Z" fill="#000" stroke="#000" stroke-width="0.7" stroke-linejoin="round"/>
<!-- panel b -->
<rect x="140.5" y="570.9" width="226.2" height="410.5" fill="#ffe4b2"/>
<path d="M272.32 570.9 V981.4 M404.14 570.9 V981.4 M535.96 570.9 V981.4 M667.78 570.9 V981.4 M140.5 616.5 H799.6 M140.5 707.73 H799.6 M140.5 798.95 H799.6 M140.5 890.17 H799.6" stroke="#808080" stroke-opacity="0.67" stroke-width="1.9" fill="none"/>
<g clip-path="url(#cb)" fill="none" stroke-linejoin="round">
<g fill="#808080"><rect x="347.55" y="613.55" width="5.9" height="5.9" transform="rotate(0.37 350.5 616.5)"/><rect x="363.05" y="613.65" width="5.9" height="5.9" transform="rotate(0.73 366 616.6)"/><rect x="378.75" y="613.95" width="5.9" height="5.9" transform="rotate(1.64 381.7 616.9)"/><rect x="394.55" y="614.55" width="5.9" height="5.9" transform="rotate(2.17 397.5 617.5)"/><rect x="410.45" y="615.15" width="5.9" height="5.9" transform="rotate(2 413.4 618.1)"/><rect x="426.05" y="615.65" width="5.9" height="5.9" transform="rotate(1.64 429 618.6)"/><rect x="441.95" y="616.05" width="5.9" height="5.9" transform="rotate(1.64 444.9 619)"/><rect x="457.55" y="616.55" width="5.9" height="5.9" transform="rotate(2.2 460.5 619.5)"/><rect x="473.25" y="617.25" width="5.9" height="5.9" transform="rotate(2.54 476.2 620.2)"/><rect x="489.15" y="617.95" width="5.9" height="5.9" transform="rotate(3.09 492.1 620.9)"/><rect x="504.75" y="618.95" width="5.9" height="5.9" transform="rotate(3.63 507.7 621.9)"/><rect x="520.65" y="619.95" width="5.9" height="5.9" transform="rotate(4 523.6 622.9)"/><rect x="536.25" y="621.15" width="5.9" height="5.9" transform="rotate(4.2 539.2 624.1)"/><rect x="551.95" y="622.25" width="5.9" height="5.9" transform="rotate(4.34 554.9 625.2)"/><rect x="567.85" y="623.55" width="5.9" height="5.9" transform="rotate(4.9 570.8 626.5)"/><rect x="583.45" y="624.95" width="5.9" height="5.9" transform="rotate(5.64 586.4 627.9)"/><rect x="599.25" y="626.65" width="5.9" height="5.9" transform="rotate(6.52 602.2 629.6)"/><rect x="614.95" y="628.55" width="5.9" height="5.9" transform="rotate(7.44 617.9 631.5)"/><rect x="630.65" y="630.75" width="5.9" height="5.9" transform="rotate(8.36 633.6 633.7)"/><rect x="646.25" y="633.15" width="5.9" height="5.9" transform="rotate(8.59 649.2 636.1)"/><rect x="661.75" y="635.45" width="5.9" height="5.9" transform="rotate(8.75 664.7 638.4)"/><rect x="677.45" y="637.95" width="5.9" height="5.9" transform="rotate(9.46 680.4 640.9)"/><rect x="692.95" y="640.65" width="5.9" height="5.9" transform="rotate(10.6 695.9 643.6)"/><rect x="708.45" y="643.75" width="5.9" height="5.9" transform="rotate(11.45 711.4 646.7)"/><rect x="724.05" y="646.95" width="5.9" height="5.9" transform="rotate(12.55 727 649.9)"/><rect x="739.45" y="650.65" width="5.9" height="5.9" transform="rotate(14.48 742.4 653.6)"/><rect x="754.65" y="654.85" width="5.9" height="5.9" transform="rotate(16.27 757.6 657.8)"/><rect x="769.95" y="659.55" width="5.9" height="5.9" transform="rotate(16.37 772.9 662.5)"/><rect x="784.95" y="663.75" width="5.9" height="5.9" transform="rotate(16.22 787.9 666.7)"/><rect x="799.85" y="668.25" width="5.9" height="5.9" transform="rotate(16.81 802.8 671.2)"/></g>
<g fill="#808080"><rect x="283.25" y="624.35" width="5.9" height="5.9" transform="rotate(14.21 286.2 627.3)"/><rect x="298.65" y="628.25" width="5.9" height="5.9" transform="rotate(13.99 301.6 631.2)"/><rect x="314.15" y="632.05" width="5.9" height="5.9" transform="rotate(13.78 317.1 635)"/><rect x="329.65" y="635.85" width="5.9" height="5.9" transform="rotate(15.04 332.6 638.8)"/><rect x="345.05" y="640.35" width="5.9" height="5.9" transform="rotate(16.54 348 643.3)"/><rect x="359.95" y="644.85" width="5.9" height="5.9" transform="rotate(16.7 362.9 647.8)"/><rect x="375.05" y="649.35" width="5.9" height="5.9" transform="rotate(17 378 652.3)"/><rect x="390.05" y="654.05" width="5.9" height="5.9" transform="rotate(19.01 393 657)"/><rect x="404.65" y="659.55" width="5.9" height="5.9" transform="rotate(21.13 407.6 662.5)"/><rect x="419.55" y="665.45" width="5.9" height="5.9" transform="rotate(22.75 422.5 668.4)"/><rect x="433.75" y="671.75" width="5.9" height="5.9" transform="rotate(24.02 436.7 674.7)"/><rect x="448.05" y="678.15" width="5.9" height="5.9" transform="rotate(24.86 451 681.1)"/><rect x="462.45" y="685.05" width="5.9" height="5.9" transform="rotate(26.16 465.4 688)"/><rect x="476.75" y="692.25" width="5.9" height="5.9" transform="rotate(27.54 479.7 695.2)"/><rect x="490.45" y="699.65" width="5.9" height="5.9" transform="rotate(29.77 493.4 702.6)"/><rect x="503.85" y="707.75" width="5.9" height="5.9" transform="rotate(31.52 506.8 710.7)"/><rect x="517.35" y="716.15" width="5.9" height="5.9" transform="rotate(33.03 520.3 719.1)"/><rect x="530.15" y="724.85" width="5.9" height="5.9" transform="rotate(34.6 533.1 727.8)"/><rect x="543.15" y="733.95" width="5.9" height="5.9" transform="rotate(35.72 546.1 736.9)"/><rect x="556.15" y="743.55" width="5.9" height="5.9" transform="rotate(37.01 559.1 746.5)"/><rect x="568.75" y="753.25" width="5.9" height="5.9" transform="rotate(37.92 571.7 756.2)"/><rect x="581.05" y="762.95" width="5.9" height="5.9" transform="rotate(39.32 584 765.9)"/><rect x="593.05" y="773.15" width="5.9" height="5.9" transform="rotate(41.25 596 776.1)"/><rect x="604.65" y="783.65" width="5.9" height="5.9" transform="rotate(42.29 607.6 786.6)"/><rect x="616.25" y="794.25" width="5.9" height="5.9" transform="rotate(43.46 619.2 797.2)"/><rect x="627.55" y="805.35" width="5.9" height="5.9" transform="rotate(45.13 630.5 808.3)"/><rect x="638.55" y="816.65" width="5.9" height="5.9" transform="rotate(46.15 641.5 819.6)"/><rect x="649.55" y="828.25" width="5.9" height="5.9" transform="rotate(47.03 652.5 831.2)"/><rect x="660.35" y="840.05" width="5.9" height="5.9" transform="rotate(47.69 663.3 843)"/><rect x="670.85" y="851.65" width="5.9" height="5.9" transform="rotate(48.62 673.8 854.6)"/><rect x="681.05" y="863.55" width="5.9" height="5.9" transform="rotate(49.87 684 866.5)"/><rect x="691.25" y="875.85" width="5.9" height="5.9" transform="rotate(51.06 694.2 878.8)"/><rect x="700.85" y="888.05" width="5.9" height="5.9" transform="rotate(52.51 703.8 891)"/><rect x="710.35" y="900.75" width="5.9" height="5.9" transform="rotate(53.71 713.3 903.7)"/><rect x="719.65" y="913.65" width="5.9" height="5.9" transform="rotate(54.15 722.6 916.6)"/><rect x="728.85" y="926.35" width="5.9" height="5.9" transform="rotate(54.69 731.8 929.3)"/><rect x="737.85" y="939.35" width="5.9" height="5.9" transform="rotate(55.86 740.8 942.3)"/><rect x="746.55" y="952.45" width="5.9" height="5.9" transform="rotate(56.66 749.5 955.4)"/><rect x="755.15" y="965.65" width="5.9" height="5.9" transform="rotate(57.22 758.1 968.6)"/><rect x="763.55" y="978.85" width="5.9" height="5.9" transform="rotate(57.53 766.5 981.8)"/></g>
<path d="M140.5 616.5 L142 616.5 L143.51 616.5 L145.01 616.5 L146.51 616.5 L148.02 616.5 L149.52 616.5 L151.02 616.5 L152.53 616.5 L154.03 616.5 L155.53 616.5 L157.04 616.5 L158.54 616.5 L160.04 616.5 L161.55 616.5 L163.05 616.5 L164.55 616.5 L166.06 616.5 L167.56 616.5 L169.07 616.5 L170.57 616.5 L172.07 616.5 L173.58 616.5 L175.08 616.5 L176.58 616.5 L178.09 616.5 L179.59 616.5 L181.09 616.5 L182.6 616.5 L184.1 616.5 L185.6 616.5 L187.11 616.5 L188.61 616.5 L190.11 616.5 L191.62 616.5 L193.12 616.5 L194.62 616.5 L196.13 616.5 L197.63 616.5 L199.13 616.5 L200.64 616.5 L202.14 616.5 L203.64 616.5 L205.15 616.5 L206.65 616.5 L208.15 616.5 L209.66 616.5 L211.16 616.5 L212.66 616.5 L214.17 616.5 L215.67 616.5 L217.18 616.5 L218.68 616.5 L220.18 616.5 L221.69 616.5 L223.19 616.5 L224.69 616.5 L226.2 616.5 L227.7 616.5 L229.2 616.5 L230.71 616.5 L232.21 616.5 L233.71 616.5 L235.22 616.5 L236.72 616.5 L238.22 616.5 L239.73 616.5 L241.23 616.5 L242.73 616.5 L244.24 616.5 L245.74 616.5 L247.24 616.5 L248.75 616.5 L250.25 616.5 L251.75 616.5 L253.26 616.5 L254.76 616.5 L256.27 616.5 L257.77 616.5 L259.27 616.5 L260.78 616.5 L262.28 616.5 L263.78 616.5 L265.29 616.5 L266.79 616.5 L268.29 616.5 L269.8 616.5 L271.3 616.5 L272.81 616.5 L274.31 616.5 L275.81 616.5 L277.32 616.5 L278.82 616.5 L280.33 616.5 L281.83 616.5 L283.33 616.5 L284.84 616.5 L286.34 616.5 L287.85 616.5 L289.35 616.5 L290.85 616.5 L292.36 616.5 L293.86 616.5 L295.36 616.5 L296.87 616.5 L298.37 616.5 L299.88 616.5 L301.38 616.5 L302.88 616.5 L304.39 616.5 L305.89 616.5 L307.39 616.5 L308.9 616.5 L310.4 616.5 L311.9 616.5 L313.41 616.5 L314.91 616.5 L316.41 616.5 L317.92 616.5 L319.42 616.5 L320.92 616.5 L322.43 616.5 L323.93 616.5 L325.43 616.5 L326.94 616.5 L328.44 616.5 L329.94 616.5 L331.44 616.5 L332.95 616.5 L334.45 616.5 L335.95 616.5 L337.45 616.5 L338.96 616.5 L340.46 616.5 L341.96 616.5 L343.46 616.51 L344.97 616.54 L346.47 616.59 L347.97 616.66 L349.48 616.73 L350.98 616.82 L352.48 616.92 L353.98 617.03 L355.48 617.15 L356.98 617.27 L358.48 617.39 L359.97 617.51 L361.47 617.66 L362.96 617.83 L364.45 618.04 L365.94 618.26 L367.42 618.5 L368.91 618.75 L370.39 619.01 L371.87 619.28 L373.35 619.55 L374.82 619.84 L376.29 620.15 L377.76 620.48 L379.23 620.82 L380.69 621.16 L382.16 621.49 L383.63 621.79 L385.1 622.1 L386.58 622.4 L388.05 622.71 L389.52 623.01 L391 623.31 L392.47 623.61 L393.95 623.9 L395.42 624.19 L396.9 624.47 L398.38 624.75 L399.86 625.02 L401.34 625.28 L402.82 625.54 L404.3 625.78 L405.78 626.02 L407.26 626.26 L408.75 626.49 L410.24 626.72 L411.72 626.95 L413.21 627.17 L414.7 627.38 L416.19 627.6 L417.67 627.81 L419.16 628.02 L420.65 628.22 L422.14 628.43 L423.63 628.63 L425.12 628.84 L426.61 629.04 L428.1 629.24 L429.59 629.44 L431.08 629.65 L432.57 629.85 L434.06 630.04 L435.56 630.23 L437.05 630.43 L438.54 630.62 L440.03 630.8 L441.52 630.99 L443.01 631.18 L444.5 631.37 L446 631.55 L447.49 631.74 L448.98 631.92 L450.47 632.11 L451.96 632.29 L453.46 632.47 L454.95 632.66 L456.44 632.84 L457.93 633.02 L459.43 633.2 L460.92 633.38 L462.41 633.56 L463.91 633.74 L465.4 633.91 L466.89 634.09 L468.38 634.27 L469.88 634.44 L471.37 634.62 L472.86 634.79 L474.36 634.96 L475.85 635.14 L477.34 635.31 L478.84 635.48 L480.33 635.66 L481.83 635.83 L483.32 636 L484.81 636.17 L486.31 636.34 L487.8 636.51 L489.29 636.68 L490.79 636.85 L492.28 637.02 L493.78 637.18 L495.27 637.34 L496.77 637.51 L498.26 637.67 L499.76 637.83 L501.25 637.98 L502.75 638.14 L504.24 638.29 L505.74 638.44 L507.23 638.59 L508.73 638.74 L510.23 638.89 L511.72 639.03 L513.22 639.17 L514.72 639.31 L516.21 639.45 L517.71 639.59 L519.21 639.73 L520.7 639.86 L522.2 640 L523.7 640.13 L525.2 640.27 L526.69 640.4 L528.19 640.53 L529.69 640.66 L531.19 640.79 L532.69 640.92 L534.18 641.05 L535.68 641.18 L537.18 641.3 L538.68 641.43 L540.18 641.56 L541.67 641.68 L543.17 641.81 L544.67 641.93 L546.17 642.05 L547.67 642.18 L549.17 642.3 L550.66 642.42 L552.16 642.54 L553.66 642.66 L555.16 642.77 L556.66 642.89 L558.16 643.01 L559.66 643.13 L561.16 643.24 L562.66 643.36 L564.15 643.48 L565.65 643.59 L567.15 643.71 L568.65 643.83 L570.15 643.94 L571.65 644.06 L573.15 644.18 L574.65 644.3 L576.15 644.41 L577.64 644.53 L579.14 644.65 L580.64 644.77 L582.14 644.89 L583.64 645.01 L585.14 645.12 L586.64 645.24 L588.14 645.36 L589.63 645.48 L591.13 645.6 L592.63 645.72 L594.13 645.83 L595.63 645.95 L597.13 646.07 L598.63 646.19 L600.13 646.31 L601.62 646.43 L603.12 646.55 L604.62 646.67 L606.12 646.79 L607.62 646.91 L609.12 647.03 L610.62 647.15 L612.11 647.27 L613.61 647.39 L615.11 647.52 L616.61 647.64 L618.11 647.76 L619.61 647.89 L621.1 648.01 L622.6 648.14 L624.1 648.26 L625.6 648.39 L627.1 648.51 L628.6 648.64 L630.09 648.76 L631.59 648.89 L633.09 649.01 L634.59 649.14 L636.09 649.27 L637.58 649.39 L639.08 649.52 L640.58 649.65 L642.08 649.78 L643.58 649.91 L645.07 650.04 L646.57 650.17 L648.07 650.3 L649.57 650.44 L651.06 650.57 L652.56 650.7 L654.06 650.83 L655.56 650.97 L657.06 651.1 L658.55 651.23 L660.05 651.36 L661.55 651.49 L663.05 651.62 L664.54 651.75 L666.04 651.87 L667.54 652 L669.04 652.12 L670.54 652.24 L672.04 652.36 L673.53 652.48 L675.03 652.6 L676.53 652.72 L678.03 652.84 L679.53 652.96 L681.03 653.07 L682.53 653.19 L684.03 653.31 L685.53 653.42 L687.02 653.54 L688.52 653.65 L690.02 653.76 L691.52 653.88 L693.02 653.99 L694.52 654.1 L696.02 654.21 L697.52 654.32 L699.02 654.43 L700.52 654.54 L702.02 654.65 L703.52 654.75 L705.02 654.86 L706.52 654.97 L708.02 655.08 L709.52 655.18 L711.02 655.29 L712.52 655.39 L714.02 655.49 L715.52 655.59 L717.02 655.69 L718.52 655.79 L720.02 655.89 L721.52 655.98 L723.02 656.08 L724.52 656.17 L726.02 656.26 L727.52 656.35 L729.02 656.45 L730.52 656.54 L732.02 656.63 L733.52 656.72 L735.02 656.81 L736.52 656.9 L738.02 656.99 L739.53 657.07 L741.03 657.16 L742.53 657.24 L744.03 657.33 L745.53 657.41 L747.03 657.5 L748.53 657.58 L750.03 657.66 L751.53 657.74 L753.04 657.82 L754.54 657.9 L756.04 657.97 L757.54 658.05 L759.04 658.12 L760.54 658.2 L762.05 658.27 L763.55 658.34 L765.05 658.41 L766.55 658.48 L768.05 658.55 L769.55 658.62 L771.06 658.68 L772.56 658.75 L774.06 658.81 L775.56 658.88 L777.06 658.94 L778.57 659.01 L780.07 659.07 L781.57 659.13 L783.07 659.19 L784.57 659.25 L786.08 659.31 L787.58 659.37 L789.08 659.43 L790.58 659.48 L792.09 659.54 L793.59 659.59 L795.09 659.65 L796.59 659.7 L798.1 659.75 L799.6 659.8" stroke="#000" stroke-width="5.4"/>
<path d="M140.5 616.5 L142.01 616.5 L143.53 616.5 L145.04 616.51 L146.56 616.52 L148.07 616.53 L149.58 616.54 L151.1 616.55 L152.61 616.56 L154.12 616.58 L155.64 616.59 L157.15 616.61 L158.66 616.63 L160.18 616.65 L161.69 616.67 L163.2 616.69 L164.72 616.72 L166.23 616.74 L167.74 616.76 L169.26 616.79 L170.77 616.81 L172.28 616.84 L173.79 616.88 L175.31 616.92 L176.82 616.97 L178.33 617.02 L179.85 617.07 L181.36 617.13 L182.87 617.19 L184.38 617.26 L185.9 617.32 L187.41 617.39 L188.92 617.45 L190.43 617.52 L191.94 617.59 L193.45 617.67 L194.97 617.75 L196.48 617.83 L197.99 617.92 L199.5 618.01 L201.01 618.11 L202.52 618.2 L204.03 618.3 L205.54 618.4 L207.05 618.5 L208.56 618.61 L210.07 618.71 L211.58 618.81 L213.09 618.92 L214.6 619.02 L216.12 619.13 L217.63 619.24 L219.14 619.35 L220.65 619.47 L222.16 619.59 L223.67 619.71 L225.18 619.84 L226.68 619.97 L228.19 620.11 L229.7 620.25 L231.2 620.4 L232.7 620.55 L234.21 620.71 L235.71 620.88 L237.21 621.06 L238.7 621.26 L240.2 621.48 L241.69 621.7 L243.19 621.94 L244.68 622.19 L246.18 622.45 L247.67 622.71 L249.16 622.98 L250.65 623.25 L252.14 623.53 L253.63 623.81 L255.12 624.09 L256.61 624.37 L258.1 624.65 L259.58 624.92 L261.07 625.2 L262.56 625.47 L264.05 625.74 L265.54 626.02 L267.03 626.31 L268.51 626.59 L270 626.89 L271.48 627.19 L272.96 627.5 L274.44 627.82 L275.92 628.14 L277.4 628.47 L278.87 628.81 L280.35 629.15 L281.82 629.51 L283.29 629.86 L284.76 630.23 L286.23 630.6 L287.69 630.99 L289.15 631.38 L290.61 631.78 L292.07 632.19 L293.52 632.61 L294.96 633.05 L296.41 633.5 L297.85 633.95 L299.29 634.42 L300.73 634.89 L302.17 635.37 L303.6 635.86 L305.04 636.34 L306.47 636.83 L307.91 637.32 L309.34 637.81 L310.77 638.29 L312.21 638.77 L313.65 639.24 L315.09 639.71 L316.54 640.18 L317.98 640.66 L319.42 641.13 L320.85 641.62 L322.29 642.12 L323.71 642.63 L325.12 643.16 L326.53 643.7 L327.92 644.27 L329.3 644.87 L330.67 645.5 L332.04 646.15 L333.4 646.82 L334.75 647.51 L336.1 648.21 L337.44 648.93 L338.77 649.65 L340.1 650.37 L341.43 651.1 L342.76 651.83 L344.08 652.56 L345.4 653.31 L346.71 654.07 L348.02 654.84 L349.31 655.62 L350.6 656.43 L351.87 657.25 L353.12 658.08 L354.36 658.94 L355.6 659.82 L356.82 660.71 L358.04 661.63 L359.24 662.55 L360.43 663.49 L361.61 664.44 L362.78 665.39 L363.93 666.37 L365.07 667.36 L366.19 668.38 L367.31 669.4 L368.41 670.44 L369.5 671.5 L369.5 671.5 L370.32 672.77 L371.13 674.04 L371.95 675.31 L372.76 676.58 L373.57 677.85 L374.38 679.12 L375.18 680.4 L375.99 681.67 L376.79 682.95 L377.59 684.23 L378.39 685.51 L379.18 686.79 L379.98 688.07 L380.78 689.35 L381.58 690.63 L382.37 691.91 L383.16 693.2 L383.95 694.48 L384.74 695.77 L385.54 697.05 L386.33 698.33 L387.13 699.61 L387.93 700.89 L388.74 702.16 L389.55 703.43 L390.37 704.7 L391.2 705.96 L392.03 707.22 L392.86 708.47 L393.7 709.73 L394.54 710.98 L395.39 712.23 L396.23 713.48 L397.09 714.73 L397.95 715.97 L398.81 717.21 L399.68 718.44 L400.55 719.67 L401.43 720.9 L402.31 722.12 L403.21 723.33 L404.1 724.54 L405.01 725.74 L405.92 726.94 L406.84 728.14 L407.76 729.33 L408.69 730.52 L409.63 731.7 L410.57 732.88 L411.52 734.05 L412.47 735.23 L413.42 736.4 L414.38 737.56 L415.34 738.73 L416.31 739.89 L417.28 741.04 L418.25 742.2 L419.23 743.35 L420.2 744.5 L421.18 745.64 L422.16 746.79 L423.14 747.93 L424.13 749.07 L425.12 750.21 L426.11 751.35 L427.11 752.48 L428.11 753.61 L429.11 754.74 L430.11 755.87 L431.12 756.99 L432.13 758.11 L433.15 759.23 L434.17 760.34 L435.19 761.45 L436.22 762.56 L437.25 763.66 L438.29 764.75 L439.33 765.84 L440.37 766.93 L441.42 768.01 L442.47 769.09 L443.53 770.16 L444.59 771.23 L445.66 772.29 L446.74 773.35 L447.82 774.4 L448.9 775.45 L449.99 776.5 L451.08 777.54 L452.17 778.58 L453.27 779.62 L454.37 780.65 L455.48 781.68 L456.59 782.7 L457.7 783.73 L458.81 784.74 L459.93 785.76 L461.04 786.77 L462.16 787.78 L463.29 788.78 L464.41 789.79 L465.54 790.79 L466.67 791.78 L467.81 792.78 L468.95 793.77 L470.09 794.75 L471.23 795.74 L472.38 796.72 L473.53 797.69 L474.69 798.66 L475.85 799.63 L477.01 800.6 L478.17 801.56 L479.34 802.51 L480.51 803.46 L481.68 804.41 L482.86 805.35 L484.04 806.28 L485.22 807.22 L486.41 808.15 L487.6 809.07 L488.8 809.99 L490 810.91 L491.2 811.82 L492.4 812.73 L493.61 813.63 L494.82 814.53 L496.04 815.43 L497.26 816.32 L498.48 817.21 L499.7 818.09 L500.92 818.98 L502.15 819.85 L503.38 820.72 L504.61 821.59 L505.84 822.46 L507.07 823.33 L508.31 824.19 L509.55 825.05 L510.79 825.91 L512.04 826.77 L513.28 827.62 L514.53 828.47 L515.78 829.31 L517.03 830.16 L518.29 830.99 L519.55 831.83 L520.81 832.66 L522.07 833.48 L523.34 834.3 L524.61 835.12 L525.88 835.93 L527.15 836.73 L528.43 837.53 L529.71 838.32 L530.99 839.11 L532.28 839.89 L533.57 840.68 L534.86 841.45 L536.15 842.23 L537.45 843 L538.74 843.77 L540.04 844.53 L541.35 845.29 L542.65 846.05 L543.96 846.8 L545.27 847.56 L546.58 848.3 L547.89 849.05 L549.21 849.79 L550.53 850.53 L551.84 851.27 L553.16 852 L554.49 852.73 L555.81 853.45 L557.13 854.18 L558.46 854.9 L559.79 855.62 L561.12 856.33 L562.45 857.04 L563.78 857.75 L565.11 858.46 L566.44 859.16 L567.78 859.86 L569.11 860.56 L570.45 861.26 L571.79 861.95 L573.13 862.64 L574.47 863.34 L575.81 864.03 L577.15 864.72 L578.49 865.41 L579.84 866.09 L581.19 866.77 L582.54 867.45 L583.89 868.13 L585.24 868.8 L586.59 869.47 L587.95 870.14 L589.31 870.8 L590.67 871.46 L592.03 872.11 L593.39 872.76 L594.76 873.4 L596.12 874.04 L597.49 874.67 L598.86 875.3 L600.24 875.92 L601.61 876.53 L602.99 877.14 L604.37 877.74 L605.75 878.34 L607.14 878.92 L608.52 879.51 L609.91 880.09 L611.31 880.67 L612.7 881.24 L614.1 881.81 L615.5 882.37 L616.9 882.93 L618.31 883.49 L619.71 884.04 L621.12 884.58 L622.53 885.12 L623.94 885.66 L625.36 886.19 L626.78 886.71 L628.19 887.23 L629.61 887.74 L631.04 888.25 L632.46 888.75 L633.88 889.24 L635.31 889.73 L636.74 890.21 L638.16 890.69 L639.59 891.15 L641.03 891.61 L642.47 892.07 L643.9 892.51 L645.35 892.95 L646.79 893.39 L648.24 893.82 L649.68 894.24 L651.13 894.66 L652.58 895.08 L654.04 895.49 L655.49 895.9 L656.94 896.31 L658.4 896.71 L659.85 897.12 L661.31 897.52 L662.76 897.93 L664.21 898.33 L665.67 898.73 L667.12 899.14 L668.57 899.54 L670.03 899.95 L671.48 900.35 L672.93 900.75 L674.39 901.15 L675.84 901.55 L677.3 901.94 L678.76 902.33 L680.21 902.73 L681.67 903.12 L683.13 903.51 L684.58 903.89 L686.04 904.28 L687.5 904.66 L688.96 905.05 L690.42 905.43 L691.88 905.81 L693.34 906.19 L694.8 906.57 L696.26 906.95 L697.72 907.32 L699.18 907.7 L700.64 908.07 L702.1 908.45 L703.56 908.82 L705.02 909.19 L706.49 909.56 L707.95 909.92 L709.41 910.29 L710.88 910.65 L712.34 911.02 L713.81 911.38 L715.27 911.74 L716.74 912.09 L718.2 912.45 L719.67 912.8 L721.13 913.15 L722.6 913.5 L724.07 913.85 L725.53 914.2 L727 914.55 L728.47 914.9 L729.94 915.25 L731.41 915.59 L732.88 915.94 L734.35 916.28 L735.82 916.61 L737.29 916.95 L738.76 917.28 L740.23 917.61 L741.7 917.93 L743.18 918.25 L744.65 918.56 L746.13 918.87 L747.6 919.17 L749.08 919.48 L750.56 919.78 L752.04 920.08 L753.52 920.38 L755 920.67 L756.48 920.96 L757.96 921.25 L759.44 921.54 L760.92 921.82 L762.41 922.09 L763.89 922.36 L765.37 922.63 L766.86 922.89 L768.35 923.14 L769.83 923.39 L771.32 923.64 L772.81 923.87 L774.3 924.11 L775.79 924.34 L777.28 924.57 L778.77 924.8 L780.26 925.02 L781.75 925.25 L783.24 925.46 L784.73 925.68 L786.23 925.89 L787.72 926.09 L789.22 926.3 L790.71 926.5 L792.21 926.69 L793.71 926.88 L795.2 927.07 L796.7 927.25 L798.2 927.43 L799.7 927.6" stroke="#000" stroke-width="5.4"/>
<g fill="#ff0000"><circle cx="207.1" cy="616.7" r="6.15"/><circle cx="207.1" cy="619.6" r="6.15"/><circle cx="273.8" cy="616.5" r="6.15"/><circle cx="273.8" cy="629.2" r="6.15"/><circle cx="340.4" cy="616.5" r="6.15"/><circle cx="340.4" cy="654.9" r="6.15"/><circle cx="359.9" cy="618.5" r="6.15"/><circle cx="359.9" cy="667.6" r="6.15"/><circle cx="373.2" cy="621" r="6.15"/><circle cx="373.2" cy="683.5" r="6.15"/><circle cx="393.7" cy="626.7" r="6.15"/><circle cx="393.8" cy="718.7" r="6.15"/><circle cx="406.3" cy="629.8" r="6.15"/><circle cx="407.1" cy="737.7" r="6.15"/><circle cx="440.1" cy="634.9" r="6.15"/><circle cx="439.8" cy="777.6" r="6.15"/><circle cx="473.8" cy="641.4" r="6.15"/><circle cx="472.6" cy="810.3" r="6.15"/><circle cx="539.5" cy="650.5" r="6.15"/><circle cx="539.4" cy="857.7" r="6.15"/><circle cx="605.5" cy="657.3" r="6.15"/><circle cx="605.9" cy="890.8" r="6.15"/><circle cx="672.7" cy="664.4" r="6.15"/><circle cx="672.5" cy="912.3" r="6.15"/></g>
</g>
<rect x="140.5" y="570.9" width="659.1" height="410.5" fill="none" stroke="#000" stroke-width="1.7"/>
<path d="M140.5 616.5 H123.5 M140.5 707.73 H123.5 M140.5 798.95 H123.5 M140.5 890.17 H123.5 M140.5 981.4 H123.5 M140.5 981.4 V998.4 M272.32 981.4 V998.4 M404.14 981.4 V998.4 M535.96 981.4 V998.4 M667.78 981.4 V998.4 M799.6 981.4 V998.4" stroke="#000" stroke-width="2.7" fill="none"/>
<text x="118" y="628.1" font-size="32.5" text-anchor="end" textLength="55.4" lengthAdjust="spacingAndGlyphs"  stroke="#fff" stroke-width="0.55">1.00</text><text x="118" y="719.33" font-size="32.5" text-anchor="end" textLength="55.4" lengthAdjust="spacingAndGlyphs"  stroke="#fff" stroke-width="0.55">0.99</text><text x="118" y="810.55" font-size="32.5" text-anchor="end" textLength="55.4" lengthAdjust="spacingAndGlyphs"  stroke="#fff" stroke-width="0.55">0.98</text><text x="118" y="901.77" font-size="32.5" text-anchor="end" textLength="55.4" lengthAdjust="spacingAndGlyphs"  stroke="#fff" stroke-width="0.55">0.97</text><text x="118" y="993" font-size="32.5" text-anchor="end" textLength="55.4" lengthAdjust="spacingAndGlyphs"  stroke="#fff" stroke-width="0.55">0.96</text>
<text x="140.8" y="1027.8" font-size="32.5" text-anchor="middle" textLength="39.4" lengthAdjust="spacingAndGlyphs"  stroke="#fff" stroke-width="0.55">0.0</text><text x="272.62" y="1027.8" font-size="32.5" text-anchor="middle" textLength="39.4" lengthAdjust="spacingAndGlyphs"  stroke="#fff" stroke-width="0.55">0.1</text><text x="404.44" y="1027.8" font-size="32.5" text-anchor="middle" textLength="39.4" lengthAdjust="spacingAndGlyphs"  stroke="#fff" stroke-width="0.55">0.2</text><text x="536.26" y="1027.8" font-size="32.5" text-anchor="middle" textLength="39.4" lengthAdjust="spacingAndGlyphs"  stroke="#fff" stroke-width="0.55">0.3</text><text x="668.08" y="1027.8" font-size="32.5" text-anchor="middle" textLength="39.4" lengthAdjust="spacingAndGlyphs"  stroke="#fff" stroke-width="0.55">0.4</text><text x="799.9" y="1027.8" font-size="32.5" text-anchor="middle" textLength="39.4" lengthAdjust="spacingAndGlyphs"  stroke="#fff" stroke-width="0.55">0.5</text>
<text x="415.2" y="1066.7" font-size="35" text-anchor="start"  stroke="#fff" stroke-width="0.55">2</text><text x="438.6" y="1066.7" font-size="36" text-anchor="start" font-style="italic"  stroke="#fff" stroke-width="0.55">d</text><text x="463.6" y="1066.7" font-size="36" text-anchor="start" font-style="italic" textLength="18.3" lengthAdjust="spacingAndGlyphs"  stroke="#fff" stroke-width="0.55">J</text><path d="M485.3 1075.1 L497.6 1040.5" stroke="#000" stroke-width="1.5" fill="none"/><text x="498.4" y="1066.7" font-size="36" text-anchor="start" font-style="italic"  stroke="#fff" stroke-width="0.55">U</text>
<path d="M165 662.5 Q148.6 680.3 165 698.1 Q151.8 680.3 165 662.5 Z" fill="#000" stroke="#000" stroke-width="0.7" stroke-linejoin="round"/><text x="166.3" y="689.7" font-size="35" text-anchor="start" font-style="italic" textLength="18.2" lengthAdjust="spacingAndGlyphs"  stroke="#ffe4b2" stroke-width="0.55">b</text><path d="M182.8 662.5 Q199.2 680.3 182.8 698.1 Q196 680.3 182.8 662.5 Z" fill="#000" stroke="#000" stroke-width="0.7" stroke-linejoin="round"/>
<text x="286.2" y="964.5" font-size="37" text-anchor="start" textLength="41" lengthAdjust="spacingAndGlyphs"  stroke="#ffe4b2" stroke-width="0.55">MI</text><text x="416.7" y="964.5" font-size="37" text-anchor="start" textLength="41" lengthAdjust="spacingAndGlyphs"  stroke="#fff" stroke-width="0.55">SF</text>
<text x="377.6" y="845" font-size="29.8" text-anchor="start" font-style="italic" textLength="15.3" lengthAdjust="spacingAndGlyphs"  stroke="#fff" stroke-width="0.42">g</text><path d="M402 815.9 Q389.8 827.25 402 838.6 Q392.2 827.25 402 815.9 Z" fill="#000" stroke="#000" stroke-width="0.6" stroke-linejoin="round"/><text x="403.3" y="832.5" font-size="20.5" text-anchor="start" >2</text><path d="M414.5 815.9 Q426.7 827.25 414.5 838.6 Q424.3 827.25 414.5 815.9 Z" fill="#000" stroke="#000" stroke-width="0.6" stroke-linejoin="round"/><path d="M433.2 820.7 Q418.2 836.75 433.2 852.8 Q421.2 836.75 433.2 820.7 Z" fill="#000" stroke="#000" stroke-width="0.7" stroke-linejoin="round"/><text x="434.5" y="845" font-size="31.5" text-anchor="start"  stroke="#fff" stroke-width="0.55">1</text><path d="M450.6 820.7 Q465.6 836.75 450.6 852.8 Q462.6 836.75 450.6 820.7 Z" fill="#000" stroke="#000" stroke-width="0.7" stroke-linejoin="round"/>
<text x="628" y="607" font-size="29.8" text-anchor="start" font-style="italic" textLength="15.3" lengthAdjust="spacingAndGlyphs"  stroke="#fff" stroke-width="0.42">g</text><path d="M652.4 577.9 Q640.2 589.25 652.4 600.6 Q642.6 589.25 652.4 577.9 Z" fill="#000" stroke="#000" stroke-width="0.6" stroke-linejoin="round"/><text x="653.7" y="594.5" font-size="20.5" text-anchor="start" >2</text><path d="M664.9 577.9 Q677.1 589.25 664.9 600.6 Q674.7 589.25 664.9 577.9 Z" fill="#000" stroke="#000" stroke-width="0.6" stroke-linejoin="round"/><path d="M687.2 579.6 Q667.4 598.9 687.2 618.2 Q670.8 598.9 687.2 579.6 Z" fill="#000" stroke="#000" stroke-width="0.7" stroke-linejoin="round"/><path d="M730.4 579.6 Q749.6 598.9 730.4 618.2 Q746.2 598.9 730.4 579.6 Z" fill="#000" stroke="#000" stroke-width="0.7" stroke-linejoin="round"/><path d="M691.0 598.6 L694.2 596.8" stroke="#000" stroke-width="1.0" fill="none"/><path d="M694.0 597.0 L700.3 610.0" stroke="#000" stroke-width="2.4" fill="none"/><path d="M700.1 611.6 L712.3 580.0 H730.0" stroke="#000" stroke-width="1.2" fill="none" stroke-linejoin="miter"/><text x="716" y="607" font-size="32" text-anchor="start"  stroke="#fff" stroke-width="0.55">2</text>
</g>
</svg>
</body></html>
